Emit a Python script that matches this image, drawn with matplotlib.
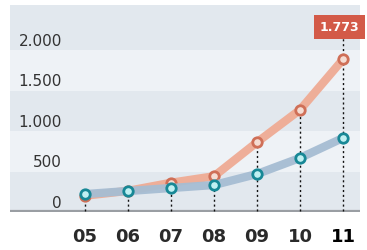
import matplotlib
matplotlib.use("Agg")
import matplotlib.pyplot as plt
import numpy as np

years = ["05", "06", "07", "08", "09", "10", "11"]
orange_vals = [90, 150, 250, 330, 750, 1150, 1773]
blue_vals = [110, 148, 185, 222, 358, 556, 803]
ytick_vals = [0, 500, 1000, 1500, 2000]
ytick_labels = ["0", "500", "1.000", "1.500", "2.000"]
highlight_label = "1.773"

W, H = 367, 250
fig = plt.figure(figsize=(W / 100, H / 100), dpi=100)
fig.patch.set_facecolor("white")

left, right, top, bottom = 10, 360, 5, 212
ax = fig.add_axes([left / W, (H - bottom) / H, (right - left) / W, (bottom - top) / H])

px_per_unit = 0.081
zero_px = 203
x0_px, dx_px = 85, 43
ymin = -(bottom - zero_px) / px_per_unit
ymax = (zero_px - top) / px_per_unit
xmin = (left - x0_px) / dx_px
xmax = (right - x0_px) / dx_px
ax.set_xlim(xmin, xmax)
ax.set_ylim(ymin, ymax)
ax.axis("off")

# alternating bands
dark, light = "#e2e8ee", "#eef2f6"
edges = [ymin + 500 * i for i in range(5)] + [ymax]
for i in range(len(edges) - 1):
    ax.axhspan(edges[i], edges[i + 1], color=dark if i % 2 == 0 else light,
               lw=0, zorder=0)
ax.axhline(ymin + 8, color="#9a9ea3", lw=1.6, zorder=1)

x = np.arange(len(years))

for v, lab in zip(ytick_vals, ytick_labels):
    ax.text((62 - x0_px) / dx_px, v, lab, ha="right", va="center", fontsize=11,
            color="#333333", zorder=5)

label_y = (zero_px - 27) / px_per_unit
for i in range(len(years)):
    topv = max(orange_vals[i], blue_vals[i])
    if i == len(years) - 1:
        topv = label_y
    ax.plot([i, i], [ymin + 8, topv], color="#111111", lw=1.0, ls=(0, (1.5, 2)), zorder=2)

ax.plot(x, orange_vals, color="#efab94", lw=6, solid_capstyle="round", zorder=3, alpha=0.95)
ax.plot(x, orange_vals, ls="none", marker="o", ms=6.8, mfc="#f5dcd2", mec="#cf6f57",
        mew=2, zorder=4)
ax.plot(x, blue_vals, color="#a6bdd3", lw=6, solid_capstyle="round", zorder=5, alpha=0.95)
ax.plot(x, blue_vals, ls="none", marker="o", ms=6.8, mfc="#bff0f2", mec="#178896",
        mew=2, zorder=6)

ax.text(x[-1] - 0.08, label_y, highlight_label, ha="center", va="center", fontsize=9,
        fontweight="bold", color="white", zorder=7,
        bbox=dict(boxstyle="square,pad=0.45", fc="#d35a48", ec="none"))

for i, y in enumerate(years):
    last = i == len(years) - 1
    fig.text((x0_px + dx_px * i) / W, 1 - 237 / H, y, ha="center", va="center",
             fontsize=13, fontweight="bold", color="#000000" if last else "#2a2a2a")

fig.savefig("out.png", dpi=100, facecolor="white")
